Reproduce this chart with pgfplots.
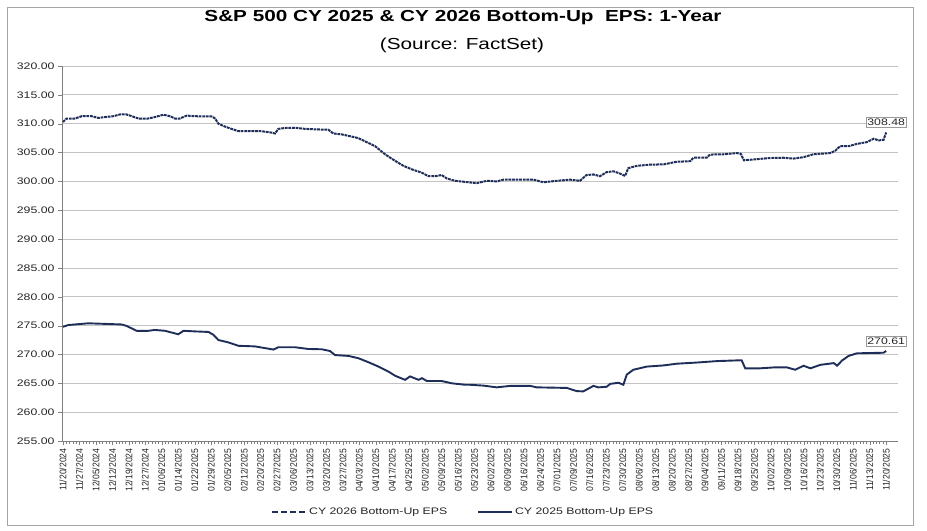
\documentclass[border=0pt]{standalone}
\usepackage{pgfplots}
\pgfplotsset{compat=1.18}
\usepackage{fontspec}
\setmainfont{Liberation Sans}[FakeStretch=1.3]
\newfontfamily\xfont{Liberation Sans}[FakeStretch=0.9]
\definecolor{navy}{RGB}{31,46,89}
\definecolor{gridgray}{RGB}{195,195,195}
\definecolor{framegray}{RGB}{165,165,165}

\begin{document}
\begin{tikzpicture}
\path[use as bounding box] (0,0) rectangle (927bp,-531bp);
\draw[framegray, line width=0.9bp] (7bp,-7bp) rectangle (913bp,-525bp);
\node[font=\fontsize{16}{18}\selectfont\bfseries] at (463bp,-18bp) {S\&P 500 CY 2025 \& CY 2026 Bottom-Up\ \ EPS: 1-Year};
\node[font=\fontsize{16}{18}\selectfont] at (462bp,-45bp) {(Source: FactSet)};
\begin{axis}[
  at={(62bp,-441bp)}, anchor=south west,
  scale only axis, width=836bp, height=375bp,
  xmin=-0.3, xmax=253.6, ymin=255, ymax=320,
  clip=false,
  axis x line*=bottom, axis y line*=left,
  axis line style={gray, -},
  ymajorgrids, grid style={gridgray, line width=0.8bp},
  ytick={255,260,...,320},
  xtick={0,5,...,250},
  minor x tick num=4,
  tick align=outside,
  major tick length=4bp, minor tick length=2.5bp,
  tick style={gray},
  xticklabels={11/20/2024,11/27/2024,12/05/2024,12/12/2024,12/19/2024,12/27/2024,01/06/2025,01/14/2025,01/22/2025,01/29/2025,02/05/2025,02/12/2025,02/20/2025,02/27/2025,03/06/2025,03/13/2025,03/20/2025,03/27/2025,04/03/2025,04/10/2025,04/17/2025,04/25/2025,05/02/2025,05/09/2025,05/16/2025,05/23/2025,06/02/2025,06/09/2025,06/16/2025,06/24/2025,07/01/2025,07/09/2025,07/16/2025,07/23/2025,07/30/2025,08/06/2025,08/13/2025,08/20/2025,08/27/2025,09/04/2025,09/11/2025,09/18/2025,09/25/2025,10/02/2025,10/09/2025,10/16/2025,10/23/2025,10/30/2025,11/06/2025,11/13/2025,11/20/2025},
  xticklabel style={rotate=90, anchor=east, font=\xfont\fontsize{9.6}{10}\selectfont, text=black!85},
  yticklabel style={font=\fontsize{9.5}{11}\selectfont, text=black!85,
    /pgf/number format/fixed, /pgf/number format/fixed zerofill,
    /pgf/number format/precision=2},
  /pgf/number format/assume math mode=true,
  legend style={at={(0.48,-0.189)}, anchor=center, draw=none,
    font=\fontsize{9.5}{11}\selectfont, text=black!85,
    legend columns=2, /tikz/every even column/.append style={column sep=28bp}},
  legend cell align=left,
]
% CY 2026 (upper, dashed with markers)
\addplot[navy, line width=2bp, dash pattern=on 2.8bp off 0.8bp,
  legend image code/.code={\draw[navy, line width=1.8bp, dash pattern=on 6bp off 3bp] (0bp,0bp) -- (34bp,0bp);}]
coordinates {
(0,310.3) (1.1,310.9) (3.6,310.9) (5.7,311.3) (8.7,311.3) (10.7,311.0) (12.8,311.15)
(15.3,311.3) (17.3,311.6) (19.3,311.6) (20.9,311.3) (22.9,310.9) (25.9,310.9) (27.9,311.15)
(30.5,311.55) (32.5,311.3) (34,310.9) (35.5,310.9) (37.6,311.4) (40.1,311.3) (43.1,311.25)
(45.2,311.25) (46.2,310.9) (47.2,310.0) (49.2,309.5) (51.2,309.1) (53.3,308.7) (56.3,308.7)
(60.3,308.7) (63.4,308.45) (64.4,308.3) (65.4,309.1) (67.4,309.25) (70.5,309.3) (73.5,309.1)
(77.6,309.0) (80.6,308.95) (82.1,308.3) (84.6,308.15) (86.7,307.9) (89.7,307.5) (91.7,306.95)
(94.8,306.1) (96.3,305.4) (97.8,304.7) (99.8,303.95) (101.9,303.2) (103.4,302.7) (105.9,302.1)
(109,301.5) (111,300.9) (113,300.9) (115,301.1) (116.6,300.5) (119.1,300.1) (123.1,299.85)
(125.7,299.7) (128.7,300.1) (131.7,300.0) (133.8,300.3) (142.9,300.3) (145.9,299.85) (150,300.1)
(154,300.3) (157,300.1) (159,301.1) (161.1,301.2) (163.1,300.9) (165.1,301.6) (167.2,301.75)
(169.2,301.35) (170.7,300.95) (171.7,302.3) (174.3,302.7) (178.3,302.9) (182.4,302.95)
(186.4,303.4) (190.5,303.5) (191.5,304.1) (195.5,304.1) (196.5,304.65) (200.6,304.7)
(204.6,304.9) (205.8,304.8) (206.8,303.65) (209.7,303.8) (214.7,304.05) (218.8,304.1)
(221.8,303.95) (224.9,304.2) (227.9,304.7) (233,304.9) (234.5,305.3) (236,306.1) (238.6,306.1)
(241.1,306.5) (244.1,306.8) (246.2,307.4) (247.7,307.1) (249.2,307.2) (250,308.48)
};
\addlegendentry{CY 2026 Bottom-Up EPS}
% CY 2025 (lower, solid)
\addplot[navy, line width=1.9bp,
  legend image code/.code={\draw[navy, line width=1.8bp] (0bp,0bp) -- (34bp,0bp);}]
coordinates {
(0,274.8) (1.6,275.1) (7.7,275.4) (12.8,275.3) (17.8,275.2) (19.3,274.95) (22.4,274.1)
(25.9,274.1) (27.9,274.25) (31,274.1) (33,273.8) (35,273.5) (36.6,274.1) (40.1,274.0)
(44.2,273.9) (45.7,273.4) (47.2,272.5) (50.2,272.1) (53.3,271.5) (58.3,271.4) (62.4,271.0)
(63.9,270.85) (65.4,271.25) (70.5,271.25) (74.5,270.95) (78.6,270.9) (81.1,270.6) (82.6,269.9)
(86.7,269.75) (89.7,269.35) (92.8,268.65) (95.8,267.9) (98.8,267.05) (100.9,266.3) (103.9,265.6)
(105.4,266.2) (108,265.6) (109,265.9) (110.5,265.4) (115,265.4) (118.1,265.0) (122.1,264.75)
(123.6,264.75) (127.7,264.6) (131.7,264.3) (135.8,264.55) (141.9,264.55) (143.9,264.3)
(153,264.2) (156,263.65) (158,263.6) (161.1,264.55) (162.6,264.3) (165.1,264.4) (166.2,264.9)
(168.7,265.1) (170.2,264.75) (171.2,266.5) (173.2,267.35) (177.3,267.9) (182.4,268.1)
(186.4,268.4) (192.5,268.6) (198.6,268.85) (206.1,269.0) (207.2,267.6) (211.7,267.6)
(215.8,267.75) (219.9,267.75) (222.4,267.35) (224.9,268.05) (227,267.6) (230,268.2)
(234.1,268.5) (235.1,268.05) (236.6,268.95) (238.6,269.75) (241.1,270.2) (249.2,270.3)
(250,270.61)
};
\addlegendentry{CY 2025 Bottom-Up EPS}
\node[draw=gray!80, fill=white, inner sep=1.5bp, anchor=south, yshift=5bp,
  font=\fontsize{9.5}{11}\selectfont, text=black!85] at (axis cs:250,308.48) {308.48};
\node[draw=gray!80, fill=white, inner sep=1.5bp, anchor=south, yshift=5bp,
  font=\fontsize{9.5}{11}\selectfont, text=black!85] at (axis cs:250,270.61) {270.61};
\end{axis}
\end{tikzpicture}
\end{document}
